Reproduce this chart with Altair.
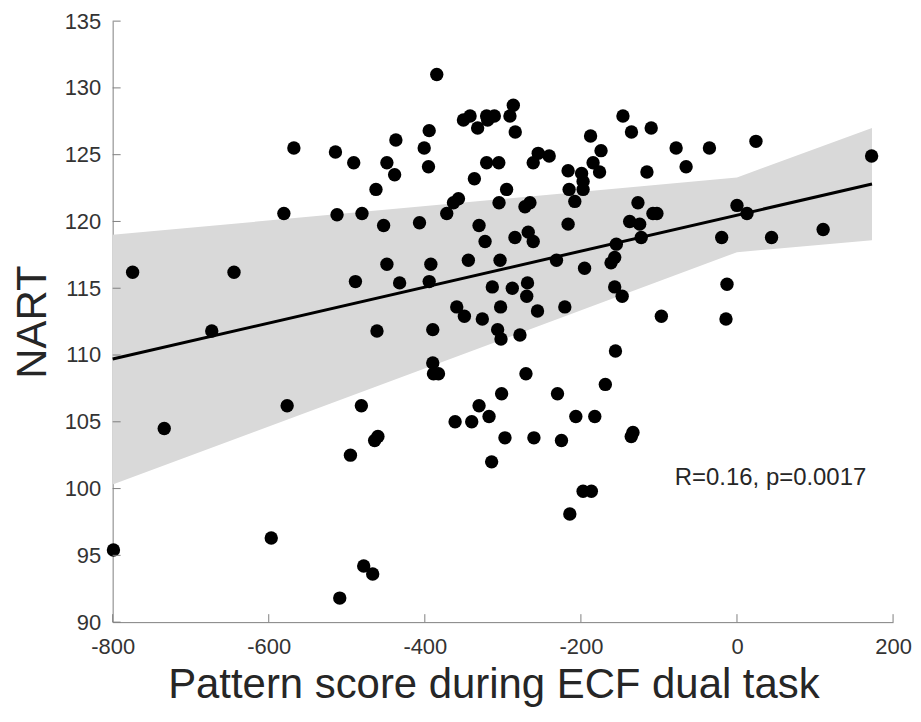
import altair as alt
import pandas as pd

# Scatter data (Pattern score, NART)
pattern_score = [
    -799, -774.4, -733.9, -673.0, -644.5, -596.8, -576.4, -580.6, -567.8, -514.5,
    -512.5, -509.0, -495.3, -491.1, -488.9, -481.3, -480.5, -478.3, -466.8, -464.3,
    -460.1, -462.6, -461.3, -452.8, -448.6, -448.6, -438.7, -437.1, -432.3, -406.8,
    -400.8, -394.4, -395.3, -394.4, -392.3, -389.8, -389.8, -388.9, -382.5, -384.7,
    -371.9, -363.3, -356.9, -361.2, -359.1, -349.3, -350.5, -342.0, -344.2, -339.9,
    -336.5, -332.3, -330.5, -330.5, -326.3, -322.8, -320.8, -310.9, -319.5, -320.8,
    -305.2, -317.7, -314.4, -313.5, -304.9, -303.6, -302.9, -306.7, -302.4, -301.6,
    -297.3, -295.2, -290.9, -286.6, -287.9, -284.1, -284.5, -278.1, -271.7, -265.3,
    -270.4, -268.4, -269.4, -267.5, -261.1, -260.2, -261.1, -254.7, -240.6, -255.6,
    -231.3, -230.0, -224.9, -220.6, -216.4, -199.1, -197.2, -197.2, -215.1, -207.8,
    -216.4, -214.2, -206.5, -197.2, -186.6, -195.3, -187.6, -182.2, -174.2, -184.4,
    -176.1, -168.7, -155.7, -154.6, -156.7, -161.4, -156.7, -147.1, -146.1, -135.2,
    -135.5, -133.3, -126.9, -137.5, -124.7, -122.7, -115.4, -109.9, -107.7, -102.6,
    -96.9, -78.0, -65.2, -35.3, -19.6, -14.1, -12.8, 0.0, 12.8, 24.3,
    44.3, 110.4, 172.5,
]
nart = [
    95.4, 116.2, 104.5, 111.8, 116.2, 96.3, 106.2, 120.6, 125.5, 125.2,
    120.5, 91.8, 102.5, 124.4, 115.5, 106.2, 120.6, 94.2, 93.6, 103.6,
    103.9, 122.4, 111.8, 119.7, 124.4, 116.8, 123.5, 126.1, 115.4, 119.9,
    125.5, 126.8, 124.1, 115.5, 116.8, 111.9, 109.4, 108.6, 108.6, 131.0,
    120.6, 121.4, 121.7, 105.0, 113.6, 112.9, 127.6, 127.9, 117.1, 105.0,
    123.2, 127.0, 119.7, 106.2, 112.7, 118.5, 127.9, 127.9, 127.6, 124.4,
    124.4, 105.4, 102.0, 115.1, 121.4, 117.1, 113.6, 111.9, 111.2, 107.1,
    103.8, 122.4, 127.9, 128.7, 115.0, 126.7, 118.8, 111.5, 121.1, 121.4,
    108.6, 115.4, 114.4, 119.2, 118.5, 103.8, 124.4, 125.1, 124.9, 113.3,
    117.1, 107.1, 103.6, 113.6, 123.8, 123.6, 123.0, 122.4, 122.4, 121.5,
    119.8, 98.1, 105.4, 99.8, 99.8, 116.5, 126.4, 105.4, 125.3, 124.4,
    123.7, 107.8, 110.3, 118.3, 117.3, 116.9, 115.1, 114.4, 127.9, 126.7,
    103.9, 104.2, 121.4, 120.0, 119.8, 118.8, 123.7, 127.0, 120.6, 120.6,
    112.9, 125.5, 124.1, 125.5, 118.8, 112.7, 115.3, 121.2, 120.6, 126.0,
    118.8, 119.4, 124.9,
]

# Regression line endpoints
fit_x = [-800, 173]
fit_y = [109.7, 122.8]

# Confidence band
band_x = [-800, 0, 173]
band_lo = [100.3, 117.7, 118.6]
band_hi = [119.0, 123.3, 127.0]

x_ticks = [-800, -600, -400, -200, 0, 200]
y_ticks = [90, 95, 100, 105, 110, 115, 120, 125, 130, 135]

annot_text = ["R=0.16, p=0.0017"]
annot_x = [43]
annot_y = [100.8]

W, H = 783, 603
FONT = "Liberation Sans"

pts = pd.DataFrame({"x": pattern_score, "y": nart})
fit = pd.DataFrame({"x": fit_x, "y": fit_y})
band = pd.DataFrame({"x": band_x, "lo": band_lo, "hi": band_hi})
xt = pd.DataFrame({"t": x_ticks})
yt = pd.DataFrame({"t": y_ticks})
ann = pd.DataFrame({"label": annot_text, "x": annot_x, "y": annot_y})

xscale = alt.Scale(domain=[-800, 200], nice=False, zero=False)
yscale = alt.Scale(domain=[90, 135], nice=False, zero=False)

xaxis = alt.Axis(values=x_ticks, title="Pattern score during ECF dual task",
                 ticks=False, tickSize=0, labelPadding=14, grid=False,
                 titlePadding=8, titleX=382, labelFlush=False,
                 labelExpr="replace(datum.label, '\u2212', '-')",
                 domainColor="#808080", labelFont=FONT, labelFontSize=22,
                 labelColor="#333333", titleFont=FONT, titleFontSize=42,
                 titleFontWeight="normal", titleColor="#262626")
yaxis = alt.Axis(values=y_ticks, title="NART", ticks=False, tickSize=0,
                 labelPadding=12, grid=False, titlePadding=10,
                 labelFlush=False,
                 domainColor="#808080", labelFont=FONT, labelFontSize=22,
                 labelColor="#333333", titleFont=FONT, titleFontSize=42,
                 titleFontWeight="normal", titleColor="#262626")

band_layer = alt.Chart(band).mark_area(color="#d9d9d9", opacity=1).encode(
    x=alt.X("x:Q", scale=xscale, axis=xaxis),
    y=alt.Y("lo:Q", scale=yscale, axis=yaxis),
    y2="hi:Q",
)

line_layer = alt.Chart(fit).mark_line(color="black", strokeWidth=3).encode(
    x=alt.X("x:Q", scale=xscale),
    y=alt.Y("y:Q", scale=yscale),
)

pt_layer = alt.Chart(pts).mark_circle(color="black", size=180, opacity=1).encode(
    x=alt.X("x:Q", scale=xscale),
    y=alt.Y("y:Q", scale=yscale),
)

xtick_layer = alt.Chart(xt).mark_rule(color="#808080", strokeWidth=1).encode(
    x=alt.X("t:Q", scale=xscale),
    y=alt.value(H),
    y2=alt.value(H - 8),
)
ytick_layer = alt.Chart(yt).mark_rule(color="#808080", strokeWidth=1).encode(
    y=alt.Y("t:Q", scale=yscale),
    x=alt.value(0),
    x2=alt.value(8),
)

text_layer = alt.Chart(ann).mark_text(
    font=FONT, fontSize=24, color="#262626", align="center", baseline="middle"
).encode(
    x=alt.X("x:Q", scale=xscale),
    y=alt.Y("y:Q", scale=yscale),
    text="label:N",
)

chart = alt.layer(
    band_layer, line_layer, pt_layer, xtick_layer, ytick_layer, text_layer
).properties(
    width=W, height=H,
    background="white",
    autosize=alt.AutoSizeParams(type="none"),
    padding={"left": 105, "top": 12, "right": 20, "bottom": 90},
).configure_view(stroke=None)

chart.save("out.html", embed_options={"renderer": "svg", "actions": False})
